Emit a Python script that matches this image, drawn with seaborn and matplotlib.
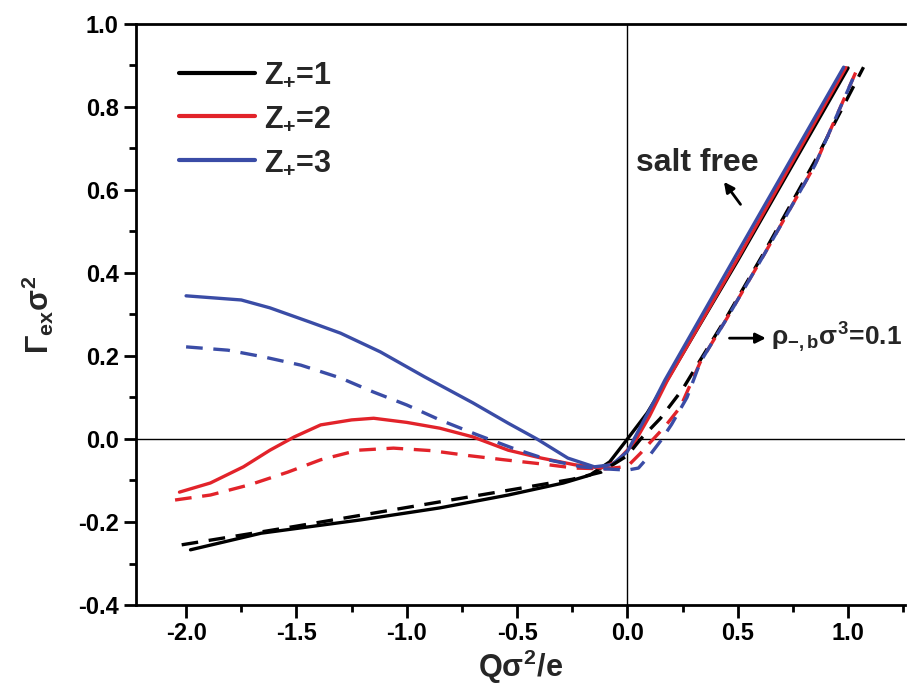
import matplotlib
matplotlib.use("Agg")
import matplotlib.pyplot as plt
from matplotlib.lines import Line2D
from matplotlib.ticker import MultipleLocator
import numpy as np
import pandas as pd
import seaborn as sns

# ---------------- data ----------------
# Z+=1, salt free
x_z1_free = [-1.98, -1.66, -1.21, -0.85, -0.54, -0.29, -0.17, -0.08, 0.0, 0.09, 0.18, 0.5, 1.0]
y_z1_free = [-0.267, -0.227, -0.195, -0.166, -0.135, -0.106, -0.087, -0.055, 0.0, 0.063, 0.142, 0.43, 0.894]
# Z+=1, rho=0.1
x_z1_salt = [-2.02, -1.5, -1.0, -0.5, -0.25, -0.12, 0.0, 0.06, 0.15, 0.25, 0.33, 0.45, 0.62, 0.85, 1.07]
y_z1_salt = [-0.255, -0.21, -0.165, -0.12, -0.097, -0.08, -0.04, 0.0, 0.05, 0.12, 0.19, 0.294, 0.45, 0.67, 0.896]
# Z+=2, salt free
x_z2_free = [-2.03, -1.89, -1.74, -1.62, -1.51, -1.39, -1.25, -1.15, -1.0, -0.85, -0.70, -0.54, -0.39, -0.24, -0.12,
             -0.05, 0.03, 0.1, 0.18, 0.5, 0.99]
y_z2_free = [-0.128, -0.106, -0.067, -0.027, 0.005, 0.034, 0.046, 0.05, 0.04, 0.026, 0.005, -0.027, -0.046, -0.062, -0.07,
             -0.055, -0.01, 0.055, 0.14, 0.435, 0.895]
# Z+=2, rho=0.1
x_z2_salt = [-2.05, -1.89, -1.71, -1.54, -1.39, -1.22, -1.06, -0.89, -0.72, -0.56, -0.39, -0.24, -0.1, 0.0, 0.06, 0.1,
             0.17, 0.24, 0.33, 0.45, 0.62, 0.85, 1.04]
y_z2_salt = [-0.147, -0.135, -0.11, -0.08, -0.05, -0.027, -0.022, -0.028, -0.04, -0.05, -0.06, -0.07, -0.072, -0.066,
             -0.034, -0.01, 0.03, 0.077, 0.185, 0.29, 0.445, 0.66, 0.89]
# Z+=3, salt free
x_z3_free = [-2.0, -1.75, -1.62, -1.44, -1.30, -1.12, -0.92, -0.70, -0.54, -0.41, -0.27, -0.15, -0.07, 0.0, 0.06,
             0.12, 0.17, 0.5, 0.98]
y_z3_free = [0.345, 0.335, 0.316, 0.282, 0.255, 0.21, 0.15, 0.087, 0.038, 0.0, -0.046, -0.067, -0.062, -0.03, 0.03,
             0.09, 0.142, 0.45, 0.896]
# Z+=3, rho=0.1
x_z3_salt = [-2.0, -1.81, -1.65, -1.48, -1.30, -1.15, -1.0, -0.85, -0.68, -0.52, -0.36, -0.21, -0.1, 0.0, 0.05, 0.1,
             0.15, 0.2, 0.27, 0.33, 0.45, 0.62, 0.85, 1.04]
y_z3_salt = [0.222, 0.214, 0.198, 0.178, 0.147, 0.113, 0.082, 0.046, 0.01, -0.022, -0.05, -0.067, -0.072, -0.075,
             -0.07, -0.04, -0.005, 0.035, 0.1, 0.185, 0.29, 0.445, 0.66, 0.89]

series = [
    ("Z+=1", "salt free", x_z1_free, y_z1_free),
    ("Z+=2", "salt free", x_z2_free, y_z2_free),
    ("Z+=3", "salt free", x_z3_free, y_z3_free),
    ("Z+=1", "salt", x_z1_salt, y_z1_salt),
    ("Z+=2", "salt", x_z2_salt, y_z2_salt),
    ("Z+=3", "salt", x_z3_salt, y_z3_salt),
]
legend_labels = [r"$Z_{+}$=1", r"$Z_{+}$=2", r"$Z_{+}$=3"]
x_ticks = [-2.0, -1.5, -1.0, -0.5, 0.0, 0.5, 1.0]
y_ticks = [-0.4, -0.2, 0.0, 0.2, 0.4, 0.6, 0.8, 1.0]

rows = []
for z, cond, xs, ys in series:
    for xv, yv in zip(xs, ys):
        rows.append({"x": xv, "y": yv, "Z": z, "cond": cond})
df = pd.DataFrame(rows)

# ---------------- style ----------------
sns.set_theme(style="ticks")
plt.rcParams["font.family"] = ["Liberation Sans", "DejaVu Sans"]
plt.rcParams["font.weight"] = "bold"
plt.rcParams["axes.unicode_minus"] = False
plt.rcParams["mathtext.fontset"] = "custom"
plt.rcParams["mathtext.rm"] = "Liberation Sans:bold"
plt.rcParams["mathtext.it"] = "Liberation Sans:bold"
plt.rcParams["mathtext.bf"] = "Liberation Sans:bold"
plt.rcParams["mathtext.sf"] = "Liberation Sans:bold"

palette = {"Z+=1": "#000000", "Z+=2": "#e2232a", "Z+=3": "#3a4ca6"}
dashes = {"salt free": "", "salt": (5, 3.2)}

fig = plt.figure(figsize=(9.08, 6.91), dpi=100)
ax = fig.add_axes([136 / 908, 1 - 605 / 691, (905 - 136) / 908, (605 - 24) / 691])

# reference lines
ax.axhline(0, color="black", lw=1.0, zorder=1)
ax.axvline(0, color="black", lw=1.0, zorder=1)

for z, cond, xs, ys in series:
    sub = df[(df["Z"] == z) & (df["cond"] == cond)]
    sns.lineplot(data=sub, x="x", y="y", color=palette[z], lw=2.4, sort=False,
                 estimator=None, ax=ax, legend=False, zorder=3)
    line = ax.lines[-1]
    line.set_solid_joinstyle("round")
    line.set_dash_joinstyle("round")
    if cond == "salt":
        line.set_dashes(dashes[cond])

ax.set_xlim(-2.227, 1.258)
ax.set_ylim(-0.4, 1.0)
ax.set_xticks(x_ticks)
ax.set_yticks(y_ticks)
ax.set_xticklabels([f"{v:.1f}" for v in x_ticks])
ax.set_yticklabels([f"{v:.1f}" for v in y_ticks])
ax.xaxis.set_minor_locator(MultipleLocator(0.25))
ax.yaxis.set_minor_locator(MultipleLocator(0.1))
ax.tick_params(axis="both", which="major", direction="out", length=9, width=2,
               labelsize=17, color="black", labelcolor="black")
ax.tick_params(axis="both", which="minor", direction="out", length=5, width=2, color="black")
for lab in ax.get_xticklabels() + ax.get_yticklabels():
    lab.set_fontweight("bold")

for s in ["left", "bottom", "top"]:
    ax.spines[s].set_linewidth(2)
    ax.spines[s].set_color("black")
ax.spines["right"].set_visible(False)

ax.set_xlabel(r"Q$\sigma^{2}$/e", fontsize=22, fontweight="bold", labelpad=2)
ax.set_ylabel(r"$\Gamma_{ex}\sigma^{2}$", fontsize=22, fontweight="bold", labelpad=16)

handles = [Line2D([0], [0], color=palette[k], lw=3) for k in ["Z+=1", "Z+=2", "Z+=3"]]
ax.legend(handles, legend_labels, loc="upper left", bbox_to_anchor=(0.02, 0.985),
          frameon=False, fontsize=22, handlelength=2.5, labelspacing=0.45, handletextpad=0.3)

# annotations
ax.text(0.04, 0.665, "salt free", fontsize=23, fontweight="bold", ha="left", va="center")
ax.annotate("", xy=(0.43, 0.625), xytext=(0.52, 0.56),
            arrowprops=dict(arrowstyle="-|>", color="black", lw=2, mutation_scale=15))
ax.annotate("", xy=(0.64, 0.243), xytext=(0.45, 0.243),
            arrowprops=dict(arrowstyle="-|>", color="black", lw=2, mutation_scale=15))
ax.text(0.65, 0.245, r"$\rho_{-,b}\sigma^{3}$=0.1", fontsize=19, fontweight="bold",
        ha="left", va="center")

fig.savefig("out.png", dpi=100)
